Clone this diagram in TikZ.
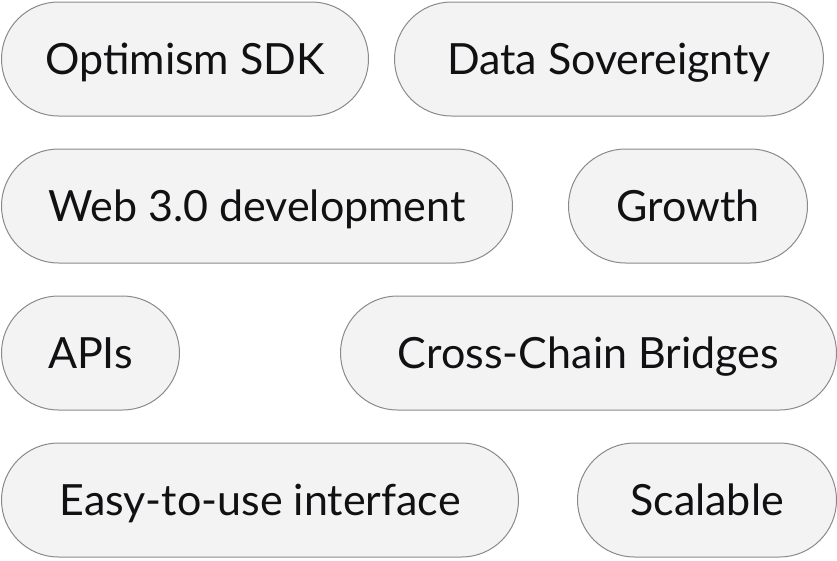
\documentclass[tikz,border=0pt]{standalone}
\usepackage{fontspec}
\setmainfont{Lato}
\usepackage{tikz}
\usetikzlibrary{positioning}

\definecolor{pillfill}{HTML}{F3F3F3}
\definecolor{pilldraw}{HTML}{8A8A8E}
\definecolor{pilltext}{HTML}{111114}

\begin{document}
\begin{tikzpicture}[x=1pt,y=1pt]
\tikzstyle{pill} = [rectangle, draw=pilldraw, line width=1pt, fill=pillfill,
text=pilltext, rounded corners=57pt, minimum height=114pt, inner sep=0pt,
text height=31pt, text depth=0pt, font=\fontsize{43}{47}\selectfont]
\useasboundingbox (0,0) rectangle (837,-560);
% row 1
\node [pill, minimum width=367pt, anchor=north west] (sdk) at (1,-1.5) {Optimism SDK};
\node [pill, minimum width=429pt, right=25pt of sdk] (sovereignty) {Data Sovereignty};
% row 2
\node [pill, minimum width=511pt, below=32pt of sdk.south west, anchor=north west] (web) {Web 3.0 development};
\node [pill, minimum width=239pt, right=55pt of web] (growth) {Growth};
% row 3
\node [pill, minimum width=178pt, below=32pt of web.south west, anchor=north west] (apis) {APIs};
\node [pill, minimum width=496pt, right=160pt of apis] (bridges) {Cross-Chain Bridges};
% row 4
\node [pill, minimum width=517pt, below=32pt of apis.south west, anchor=north west] (easy) {Easy-to-use interface};
\node [pill, minimum width=259pt, right=58pt of easy] (scalable) {Scalable};
\end{tikzpicture}
\end{document}
